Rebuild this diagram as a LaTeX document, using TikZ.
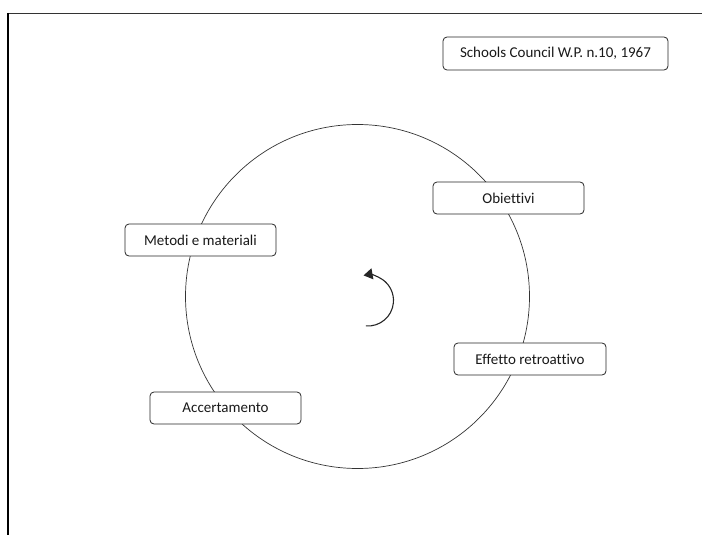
\documentclass[tikz,border=0pt]{standalone}
\usepackage{fontspec}
\setmainfont{Carlito}[Ligatures=NoCommon]
\usetikzlibrary{arrows.meta}
\tikzset{
  stage/.style={draw=black!85, line width=0.8pt, fill=white, rounded corners=4pt,
    minimum width=151pt, minimum height=32pt, inner sep=0pt, font=\fontsize{15}{17}\selectfont, text=black!90},
}
\begin{document}
\begin{tikzpicture}[x=1pt,y=-1pt]
\useasboundingbox (0,0) rectangle (702,535);
% frame edges
\draw[black!80, line width=1.2pt] (7,13.5) -- (702,13.5);
\draw[black, line width=2pt] (7.5,13) -- (7.5,535);
% cycle
\node[circle, draw=black!80, line width=0.7pt, minimum size=344pt, inner sep=0pt] (cycle) at (357.5,296.5) {};
% stages
\node[stage, minimum width=225pt, minimum height=33pt] (src) at (555.5,53.5) {Schools Council W.P. n.10, 1967};
\node[stage] (obj) at (508.5,198) {Obiettivi};
\node[stage] (met) at (200.5,240) {Metodi e materiali};
\node[stage, minimum width=152pt] (eff) at (530,359) {Effetto retroattivo};
\node[stage] (acc) at (225.5,408) {Accertamento};
% direction of the cycle
\coordinate (rc) at (368,300.5);
\draw[black!85, line width=1.1pt, -{Triangle[length=9pt,width=11pt]}] ([shift={(95:25.5)}]rc) arc[start angle=95, end angle=-100, radius=25.5];
\end{tikzpicture}
\end{document}
